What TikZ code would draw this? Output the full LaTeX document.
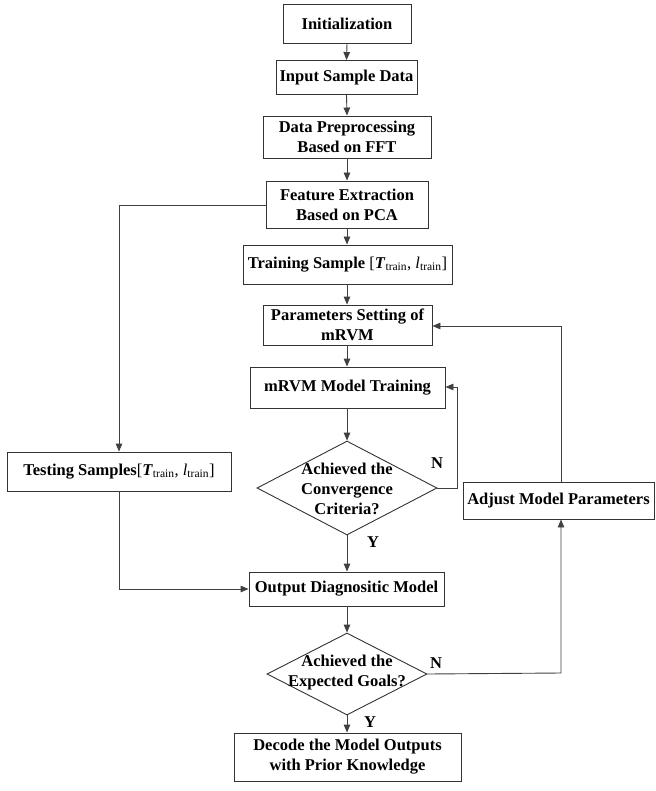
\documentclass[tikz,border=0pt]{standalone}
\usepackage{fontspec}
\setmainfont{Liberation Serif}
\usetikzlibrary{arrows.meta,shapes.geometric}
\begin{document}
\begin{tikzpicture}[x=1pt,y=-1pt,
  box/.style={draw=black!80, line width=0.9pt, inner sep=0pt, align=center,
    font=\bfseries\fontsize{16.5}{20}\selectfont},
  dia/.style={draw=black!80, line width=0.9pt, diamond, inner sep=0pt},
  dtext/.style={align=center, inner sep=0pt, font=\bfseries\fontsize{16.5}{20}\selectfont},
  lbl/.style={inner sep=0pt, font=\bfseries\fontsize{16.5}{20}\selectfont},
  conn/.style={draw=black!75, line width=0.9pt, -{Triangle[length=8pt,width=6.5pt]}},
  plain/.style={draw=black!75, line width=0.9pt}]
\useasboundingbox (0,0) rectangle (655,791);
\fill[white] (0,0) rectangle (655,791);

\node[box, minimum width=128, minimum height=39] (init) at (347,23.5) {Initialization};
\node[box, minimum width=141, minimum height=34] (input) at (346.5,77.5) {Input Sample Data};
\node[box, minimum width=168, minimum height=42] (dp) at (347,137) {Data Preprocessing\\Based on FFT};
\node[box, minimum width=162, minimum height=47] (fe) at (347,204.5) {Feature Extraction\\Based on PCA};
\node[box, minimum width=209, minimum height=39] (ts) at (347.5,264.5) {Training Sample {\normalfont[\textbf{\textit{T}}\textsubscript{train}, \textit{l}\textsubscript{train}]}};
\node[box, minimum width=169, minimum height=40] (ps) at (347.5,325) {Parameters Setting of\\mRVM};
\node[box, minimum width=195, minimum height=41] (mt) at (347.5,387.5) {mRVM Model Training};
\node[dia, minimum width=180, minimum height=94] (d1) at (347,488) {};
\node[dtext] (d1t) at (347,489) {Achieved the\\Convergence\\Criteria?};
\node[box, minimum width=224, minimum height=39] (test) at (119,471.5) {Testing Samples{\normalfont[\textbf{\textit{T}}\textsubscript{train}, \textit{l}\textsubscript{train}]}};
\node[box, minimum width=191, minimum height=37] (adj) at (558.5,500.5) {Adjust Model Parameters};
\node[box, minimum width=195, minimum height=34] (out) at (346.5,589) {Output Diagnositic Model};
\node[dia, minimum width=160, minimum height=82] (d2) at (347,674) {};
\node[dtext] (d2t) at (347,673) {Achieved the\\Expected Goals?};
\node[box, minimum width=227, minimum height=48] (dec) at (347.5,757) {Decode the Model Outputs\\with Prior Knowledge};

\node[lbl] (n1) at (437,463) {N};
\node[lbl] (y1) at (373,542) {Y};
\node[lbl] (n2) at (436,663) {N};
\node[lbl] (y2) at (370,722) {Y};

\coordinate (a1) at (457,488);
\coordinate (a2) at (457,387);
\coordinate (b1) at (561,326);
\coordinate (b2) at (561,673);
\coordinate (c1) at (119,205);
\coordinate (c2) at (119,589);

\draw[conn] (init.south) -- (input.north);
\draw[conn] (input.south) -- (dp.north);
\draw[conn] (dp.south) -- (fe.north);
\draw[conn] (fe.south) -- (ts.north -| fe.south);
\draw[conn] (ts.south -| fe.south) -- (ps.north -| fe.south);
\draw[conn] (ps.south -| fe.south) -- (mt.north -| fe.south);
\draw[conn] (mt.south -| d1.north) -- (d1.north);
\draw[conn] (d1.south) -- (out.north -| d1.south);
\draw[conn] (out.south -| d2.north) -- (d2.north);
\draw[conn] (d2.south) -- (dec.north -| d2.south);
\draw[conn] (d1.east) -- (a1) -- (a2) -- (mt.east |- a2);
\draw[conn] (d2.east) -- (b2) -- (adj.south -| b2);
\draw[conn] (adj.north -| b1) -- (b1) -- (ps.east |- b1);
\draw[conn] (fe.west |- c1) -- (c1) -- (test.north -| c1);
\draw[conn] (test.south -| c2) -- (c2) -- (out.west |- c2);
\end{tikzpicture}
\end{document}
